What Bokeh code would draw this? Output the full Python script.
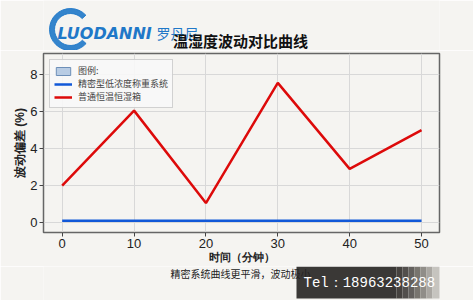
from bokeh.plotting import figure
from bokeh.models import Range1d, Legend, LegendItem, FixedTicker, Label
from bokeh.layouts import column
from bokeh.embed import file_html
from bokeh.resources import INLINE

times = [0, 10, 20, 30, 40, 50]
precise = [0.1, 0.1, 0.1, 0.1, 0.1, 0.1]
normal = [2.0, 6.05, 1.05, 7.55, 2.9, 5.0]
x_ticks = [0, 10, 20, 30, 40, 50]
y_ticks = [0, 2, 4, 6, 8]

title_text = "温湿度波动对比曲线"
caption_text = "精密系统曲线更平滑，波动极小"
logo_text = "LUODANNI"
logo_cn = "罗丹尼"
tel_text = "Tel：18963238288"

FONT = "Noto Sans CJK SC"
TICKFONT = "Liberation Sans"
BG = "#f5f4f1"
W = 473
LEFT, RIGHT = 43, 34
TOP_H = 50
BOT_H = 34
MAIN_H = 300 - TOP_H - BOT_H


def strip(h):
    f = figure(width=W, height=h, output_backend="svg", toolbar_location=None,
               x_axis_type=None, y_axis_type=None,
               x_range=Range1d(LEFT, W - RIGHT), y_range=Range1d(h, 0),
               min_border_left=LEFT, min_border_right=RIGHT,
               min_border_top=0, min_border_bottom=0)
    f.background_fill_color = BG
    f.border_fill_color = BG
    f.outline_line_color = None
    f.grid.grid_line_color = None
    return f


# ---- top strip: logo + title ----
top = strip(TOP_H)
top.annular_wedge(x=70, y=29, inner_radius=16, outer_radius=21, start_angle=0.75,
                  end_angle=5.55, color="#1f78c8", alpha=0.9)
top.add_layout(Label(x=57, y=33, text=logo_text, text_font="DejaVu Sans",
                     text_font_size="16px", text_font_style="bold italic",
                     text_baseline="middle", text_color="#1f78c8"))
top.add_layout(Label(x=156, y=32, text=logo_cn, text_font=FONT,
                     text_font_size="14px", text_baseline="middle", text_color="#1f78c8"))
top.add_layout(Label(x=240, y=40, text=title_text, text_font=FONT,
                     text_font_size="15px", text_font_style="bold", text_align="center",
                     text_baseline="middle", text_color="#111111"))

# ---- main chart ----
p = figure(width=W, height=MAIN_H, output_backend="svg", toolbar_location=None,
           x_range=Range1d(-2.6, 52.5), y_range=Range1d(-0.54, 9.14),
           min_border_left=LEFT, min_border_right=RIGHT, min_border_top=3,
           min_border_bottom=MAIN_H - 3 - 179)
p.background_fill_color = BG
p.border_fill_color = BG
p.outline_line_color = "#666666"
p.outline_line_width = 1.5

for ax in (p.xaxis, p.yaxis):
    ax.axis_line_color = None
    ax.major_tick_line_color = "#444444"
    ax.major_tick_out = 4
    ax.major_tick_in = 0
    ax.minor_tick_line_color = None
    ax.major_label_text_font = TICKFONT
    ax.major_label_text_font_size = "13px"
    ax.major_label_text_color = "#222222"
    ax.major_label_standoff = 2
    ax.axis_label_text_font = TICKFONT
    ax.axis_label_text_font_style = "bold"
    ax.axis_label_text_color = "#222222"
    ax.axis_label_standoff = 0
p.xaxis.ticker = FixedTicker(ticks=x_ticks)
p.yaxis.ticker = FixedTicker(ticks=y_ticks)
p.xaxis.axis_label = "时间（分钟）"
p.yaxis.axis_label = "波动偏差 (%)"
p.xaxis.axis_label_text_font_size = "11px"
p.yaxis.axis_label_text_font_size = "12px"
p.grid.grid_line_color = "#d8d8d8"
p.grid.grid_line_width = 1

dummy = p.rect(x=[float("nan")], y=[float("nan")], width=1, height=1,
               fill_color="#b8cce4", line_color="#6d8fb8")
rb = p.line(times, precise, line_color="#1158d8", line_width=2.5)
rr = p.line(times, normal, line_color="#dd0a0a", line_width=2.5)

legend = Legend(items=[LegendItem(label="图例:", renderers=[dummy]),
                       LegendItem(label="精密型低浓度称重系统", renderers=[rb]),
                       LegendItem(label="普通恒温恒湿箱", renderers=[rr])],
                location="top_left")
legend.label_text_font = FONT
legend.label_text_font_size = "9px"
legend.label_height = 11
legend.glyph_height = 10
legend.glyph_width = 18
legend.spacing = 0
legend.padding = 4
legend.margin = 6
legend.label_standoff = 6
legend.border_line_color = "#aaaaaa"
legend.background_fill_color = "#f8f8f8"
legend.background_fill_alpha = 0.9
p.add_layout(legend, "center")

# ---- bottom strip: caption + tel ----
bot = strip(BOT_H)
bot.add_layout(Label(x=240, y=7, text=caption_text, text_font=FONT,
                     text_font_size="10px", text_align="center",
                     text_baseline="middle", text_color="#222222"))
fade_left = [296, 396, 402, 408, 414, 420, 426, 432]
fade_right = [396, 402, 408, 414, 420, 426, 432, 440]
fade_color = ["#3a3836", "#45423f", "#524f4c", "#63605d", "#78756f",
              "#908d88", "#aaa7a2", "#c6c4bf"]
bot.quad(left=fade_left, right=fade_right, top=[0] * 8, bottom=[32] * 8,
         fill_color=fade_color, line_color=None)
bot.add_layout(Label(x=303, y=16, text=tel_text, text_font="Liberation Mono",
                     text_font_size="14px", text_baseline="middle", text_color="#ffffff"))

layout = column(top, p, bot, spacing=0)
open("out.html", "w").write(file_html(layout, INLINE))
